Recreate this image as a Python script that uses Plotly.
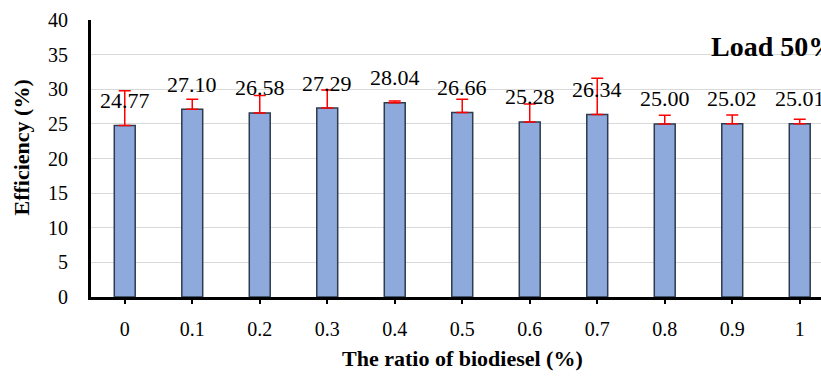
import plotly.graph_objects as go

categories = ["0", "0.1", "0.2", "0.3", "0.4", "0.5", "0.6", "0.7", "0.8", "0.9", "1"]
efficiency = [24.77, 27.10, 26.58, 27.29, 28.04, 26.66, 25.28, 26.34, 25.00, 25.02, 25.01]
error_plus = [5.0, 1.45, 2.5, 2.6, 0.25, 1.9, 2.6, 5.25, 1.25, 1.25, 0.65]
value_labels = ["24.77", "27.10", "26.58", "27.29", "28.04", "26.66", "25.28", "26.34", "25.00", "25.02", "25.01"]

SERIF = "Liberation Serif"

fig = go.Figure()
fig.add_trace(go.Bar(
    x=categories,
    y=efficiency,
    width=0.31,
    marker=dict(color="#8EA9DB", line=dict(color="#2E3B4E", width=1.5)),
    error_y=dict(type="data", symmetric=False, array=error_plus, arrayminus=[0]*len(error_plus),
                 color="#FF0000", thickness=1.5, width=6),
    showlegend=False,
))

for i, (v, t) in enumerate(zip(efficiency, value_labels)):
    fig.add_annotation(x=i, y=v, text=t, showarrow=False, yanchor="middle", yshift=25,
                       font=dict(family=SERIF, size=22, color="#000000"))

# "Load 50%" label
fig.add_annotation(xref="paper", yref="paper", x=0, y=0.905, xanchor="left", yanchor="middle",
                   xshift=618, text="<b>Load 50%</b>", showarrow=False,
                   font=dict(family=SERIF, size=28, color="#000000"))

# axis titles
fig.add_annotation(xref="paper", yref="paper", x=0, y=0.5, xanchor="center", yanchor="middle",
                   xshift=-70, yshift=11, textangle=-90, text="<b>Efficiency (%)</b>", showarrow=False,
                   font=dict(family=SERIF, size=22, color="#000000"))
fig.add_annotation(xref="paper", yref="paper", x=0.5, y=0, xanchor="center", yanchor="middle",
                   xshift=6, yshift=-61, text="<b>The ratio of biodiesel (%)</b>", showarrow=False,
                   font=dict(family=SERIF, size=22, color="#000000"))

fig.update_layout(
    width=821, height=376,
    margin=dict(l=91, r=0, t=20, b=79),
    paper_bgcolor="white", plot_bgcolor="white",
    bargap=0.69,
    xaxis=dict(
        type="category",
        range=[-0.5, 10.315],
        showline=True, linecolor="#000000", linewidth=3,
        ticks="outside", ticklen=4, tickwidth=2, tickcolor="#000000",
        ticklabelstandoff=8,
        tickfont=dict(family=SERIF, size=20, color="#000000"),
        showgrid=False, zeroline=False,
    ),
    yaxis=dict(
        range=[0, 40], dtick=5,
        showline=True, linecolor="#000000", linewidth=3,
        showgrid=True, gridcolor="#D9D9D9", gridwidth=1,
        ticks="", ticklabelstandoff=16,
        tickfont=dict(family=SERIF, size=20, color="#000000"),
        zeroline=False,
    ),
)

fig.write_html("out.html")
